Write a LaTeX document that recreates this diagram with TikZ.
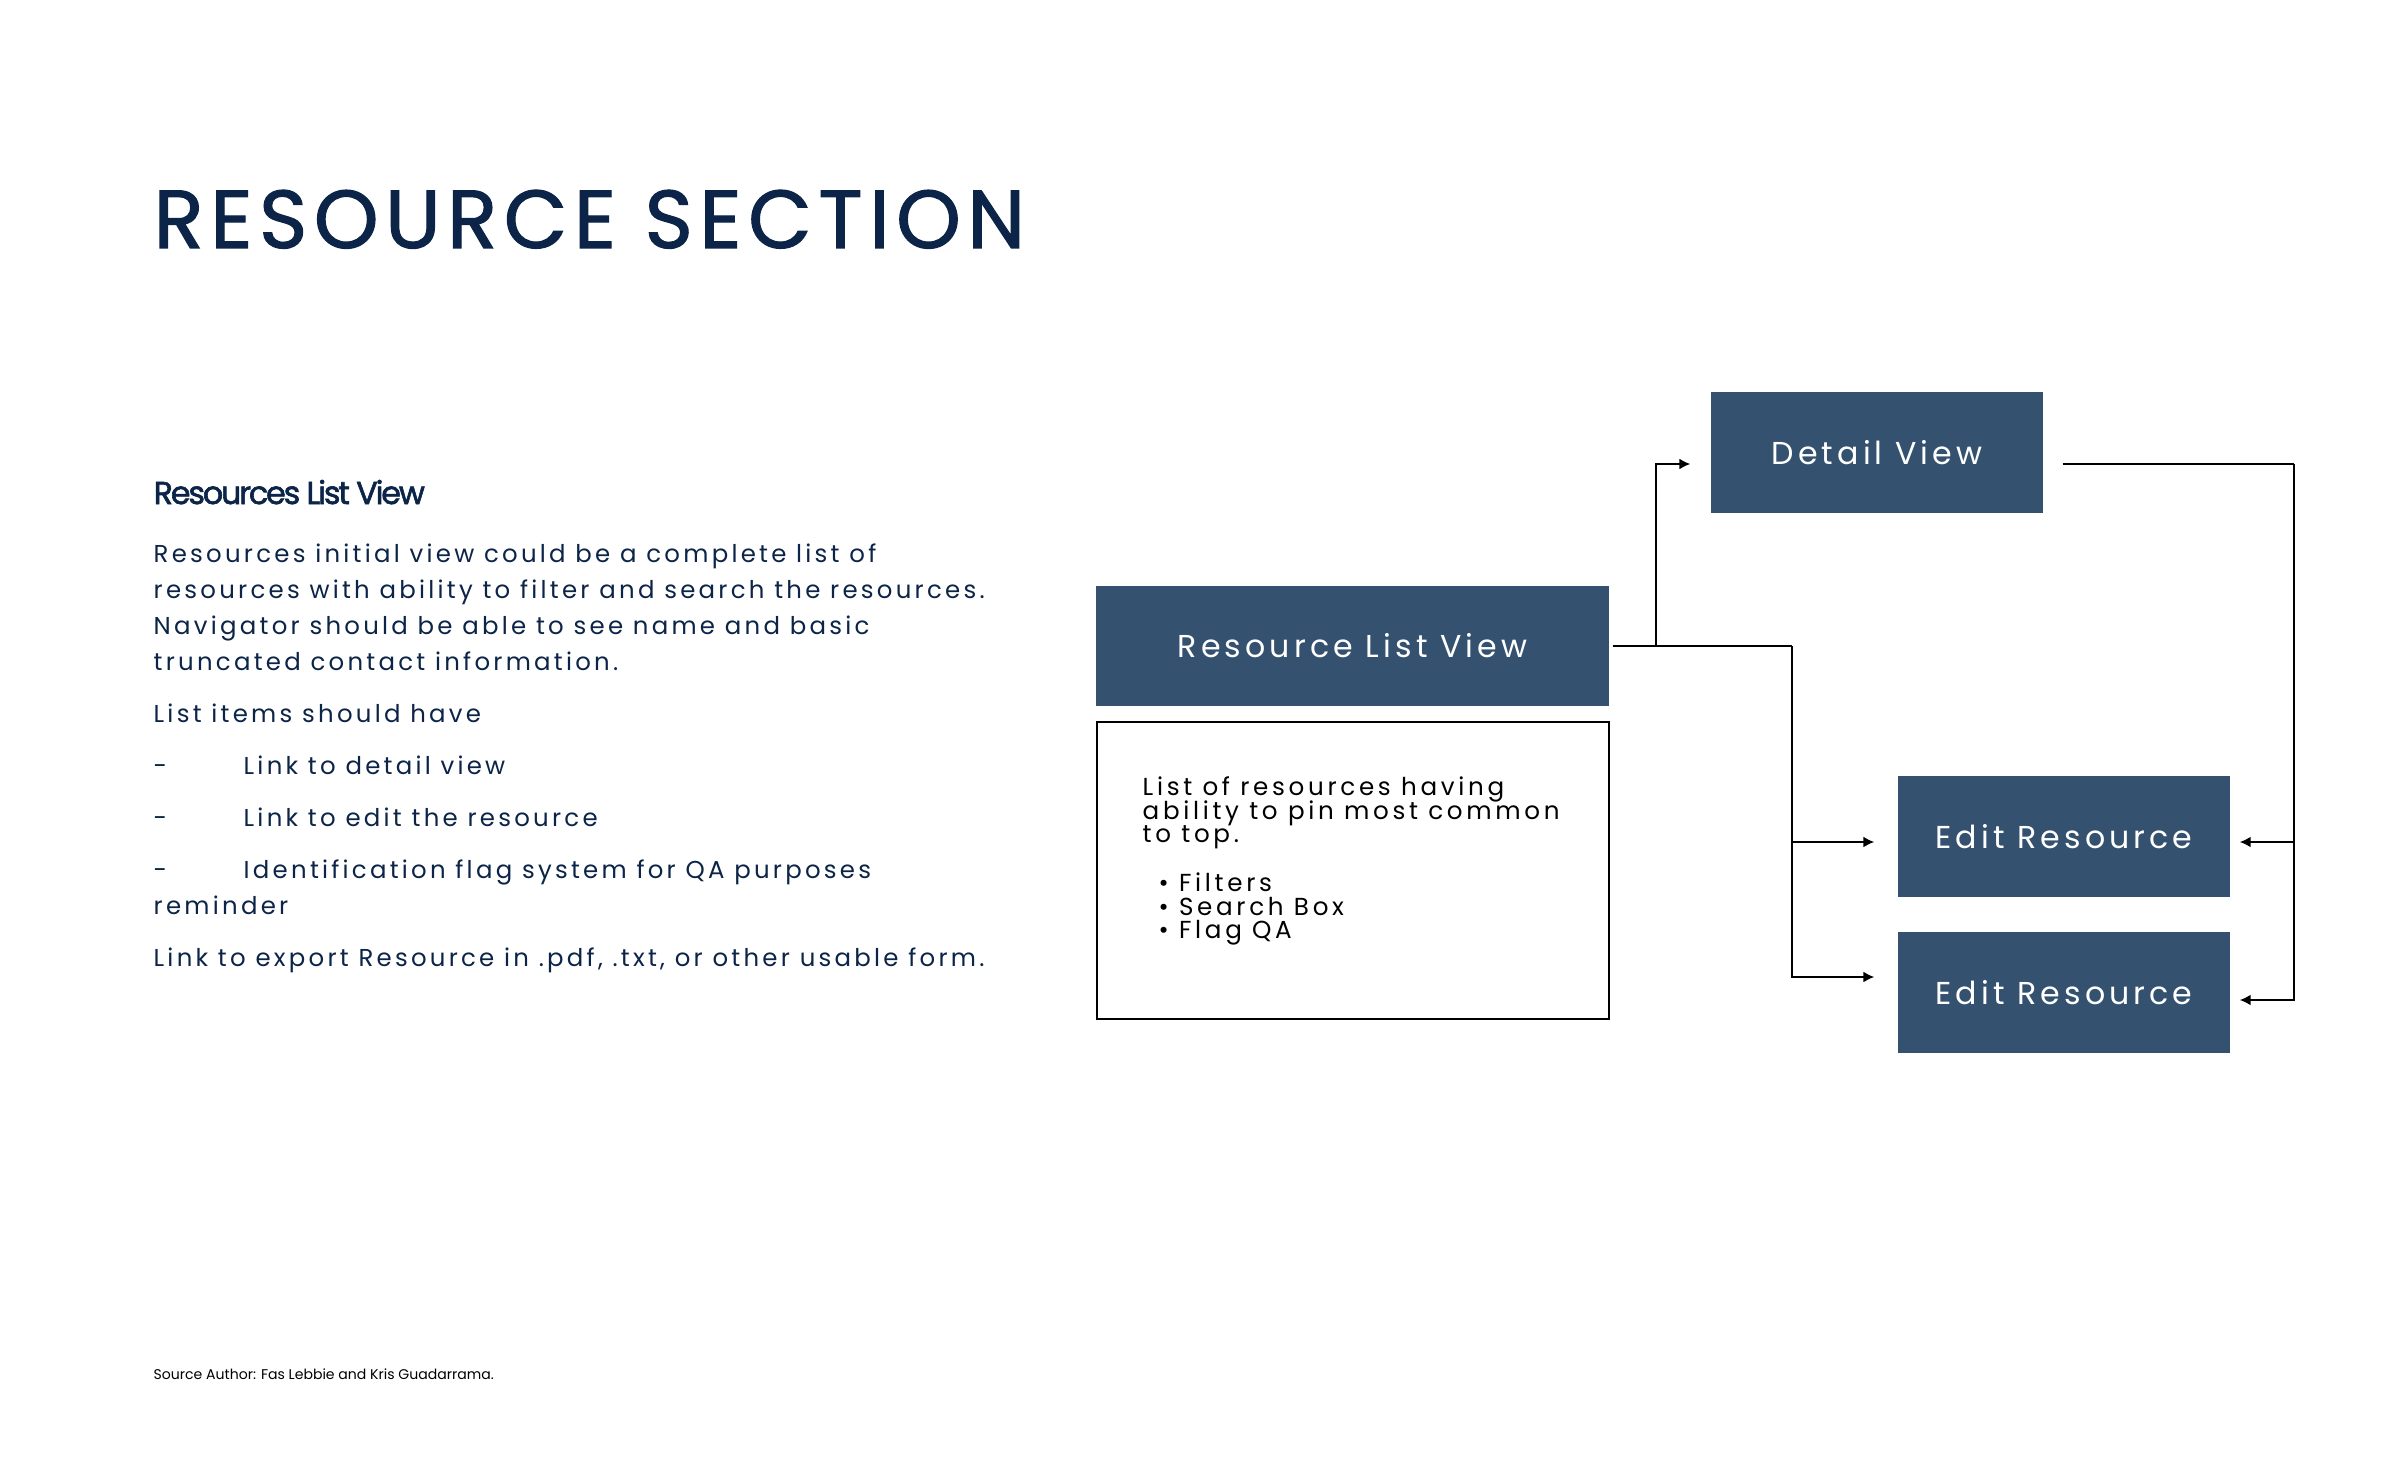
\documentclass[tikz,border=0pt]{standalone}
\usepackage{fontspec}
\setmainfont{Poppins}
\usetikzlibrary{arrows.meta}

\definecolor{navy}{RGB}{11,36,71}
\definecolor{boxblue}{RGB}{52,82,111}
\lineskiplimit=-20pt

\tikzset{
    flowbox/.style={fill=boxblue, text=white, inner sep=0pt, minimum width=3.32cm, minimum height=1.21cm,
        font=\fontsize{9}{9}\selectfont\addfontfeatures{LetterSpace=13}},
    body/.style={anchor=base west, inner sep=0pt, text=navy,
        font=\fontsize{6.95}{10}\selectfont\addfontfeatures{LetterSpace=13.3}},
    link/.style={line width=0.55pt, -{Latex[length=1.1mm,width=1.1mm]}},
}

\begin{document}
\begin{tikzpicture}
            \useasboundingbox (0,0) rectangle (24,-14.64);
            % headings
            \node[anchor=base west, inner sep=0pt, text=navy, font=\fontsize{23.4}{23.4}\selectfont\addfontfeatures{LetterSpace=8,FakeBold=1.4}] (title) at (1.53,-2.48) {RESOURCE SECTION};
            \node[anchor=base west, inner sep=0pt, text=navy, font=\fontsize{9}{9}\selectfont\addfontfeatures{LetterSpace=-6.5,FakeBold=2}] (subtitle) at (1.53,-5.04) {Resources List View};
            % left text
            \foreach [count=\i] \y/\t in {5.62/{Resources initial view could be a complete list of},
                                    5.98/{resources with ability to filter and search the resources.},
                                    6.34/{Navigator should be able to see name and basic},
                                    6.70/{truncated contact information.},
                                    7.22/{List items should have},
                                    9.14/{reminder},
                                    9.66/{Link to export Resource in .pdf, .txt, or other usable form.}}
                \node[body] (line\i) at (1.53,-\y) {\t};
            \foreach [count=\i] \y/\t in {7.74/{Link to detail view},
                                    8.26/{Link to edit the resource},
                                    8.78/{Identification flag system for QA purposes}}
            {
                \node[body] (dash\i) at (1.53,-\y) {-};
                \node[body] (item\i) at (2.43,-\y) {\t};
            }
            \node[anchor=base west, inner sep=0pt, font=\fontsize{4}{4}\selectfont] (source) at (1.53,-13.79) {Source Author: Fas Lebbie and Kris Guadarrama.};
            % diagram
            \node[flowbox, minimum width=5.13cm, minimum height=1.20cm] (listview) at (13.525,-6.46) {Resource List View};
            \node[draw, line width=0.6pt, minimum width=5.12cm, minimum height=2.97cm, inner sep=0pt] (notes) at (13.53,-8.705) {};
            \node[anchor=north west, inner sep=0pt, align=left, font=\fontsize{7}{6.75}\selectfont\addfontfeatures{LetterSpace=15}] (notetext) at (11.42,-7.76)
                {List of resources having\\ability to pin most common\\to top.\\[7pt]
                 \hspace*{0.16cm}\textbullet\ Filters\\\hspace*{0.16cm}\textbullet\ Search Box\\\hspace*{0.16cm}\textbullet\ Flag QA};
            \node[flowbox] (detail) at (18.77,-4.525) {Detail View};
            \node[flowbox] (editA) at (20.64,-8.365) {Edit Resource};
            \node[flowbox] (editB) at (20.64,-9.925) {Edit Resource};
            % connectors
            \coordinate (upsplit) at (16.56,-6.46);
            \coordinate (downsplit) at (17.92,-6.46);
            \coordinate (rightrail) at (22.94,-4.64);
            \draw[line width=0.55pt] ([xshift=0.03cm]listview.east) -- (downsplit);
            \draw[link] (upsplit) |- ([xshift=-0.2cm,yshift=-0.115cm]detail.west);
            \draw[link] (downsplit) |- ([xshift=-0.23cm,yshift=-0.055cm]editA.west);
            \draw[link] (downsplit) |- ([xshift=-0.23cm,yshift=0.155cm]editB.west);
            \draw[line width=0.55pt] ([xshift=0.19cm,yshift=-0.115cm]detail.east) -- (rightrail);
            \draw[link] (rightrail) |- ([xshift=0.09cm,yshift=-0.055cm]editA.east);
            \draw[link] (rightrail) |- ([xshift=0.09cm,yshift=-0.075cm]editB.east);
\end{tikzpicture}
\end{document}
